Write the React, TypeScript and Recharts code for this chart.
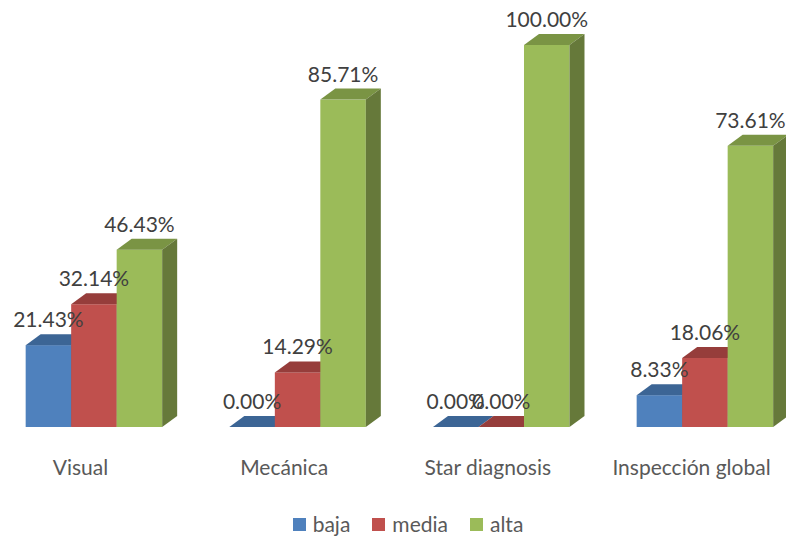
import React from 'react';
import { BarChart, Bar, XAxis, YAxis, LabelList, Legend } from 'recharts';

// Categories and the share of each level (percent) per inspection method
const categories = ['Visual', 'Mecánica', 'Star diagnosis', 'Inspección global'];
const baja = [21.43, 0.0, 0.0, 8.33];
const media = [32.14, 14.29, 0.0, 18.06];
const alta = [46.43, 85.71, 100.0, 73.61];

const seriesInfo = [
  { key: 'baja', name: 'baja', front: '#4F81BD', top: '#3C6595', side: '#33557E' },
  { key: 'media', name: 'media', front: '#C0504D', top: '#963D3B', side: '#7F3331' },
  { key: 'alta', name: 'alta', front: '#9BBB59', top: '#7A9444', side: '#66793A' },
];

const data = categories.map((name, i) => ({
  idx: i,
  name,
  baja: baja[i],
  media: media[i],
  alta: alta[i],
}));

const FONT = 'Lato, "Open Sans", sans-serif';
const DEPTH_X = 15;
const DEPTH_Y = 11;

// Box-shaped bar: front face plus a receding top and right side
const makeBox = (top: string, side: string) => (props: any) => {
  const { x, y, width, height, fill } = props;
  if (x == null || y == null) return null;
  const h = Math.max(0, height || 0);
  const w = width;
  return (
    <g>
      <rect x={x} y={y} width={w} height={h} fill={fill} />
      <polygon
        points={`${x},${y} ${x + DEPTH_X},${y - DEPTH_Y} ${x + w + DEPTH_X},${y - DEPTH_Y} ${x + w},${y}`}
        fill={top}
      />
      <polygon
        points={`${x + w},${y} ${x + w + DEPTH_X},${y - DEPTH_Y} ${x + w + DEPTH_X},${y + h - DEPTH_Y} ${x + w},${y + h}`}
        fill={side}
      />
    </g>
  );
};

const CategoryTick = (props: any) => {
  const { x, y, payload } = props;
  return (
    <text
      x={x - 13}
      y={y + 48}
      textAnchor="middle"
      fontFamily={FONT}
      fontSize={21}
      fill="#595959"
    >
      {categories[payload.value]}
    </text>
  );
};

const seriesOrder = seriesInfo.map((s) => s.name);

const LegendContent = (props: any) => {
  const items = [...(props.payload || [])].sort(
    (a: any, b: any) => seriesOrder.indexOf(a.value) - seriesOrder.indexOf(b.value)
  );
  return (
    <div
      style={{
        display: 'flex',
        justifyContent: 'center',
        gap: 22,
        paddingLeft: 22,
        boxSizing: 'border-box',
        fontFamily: FONT,
        fontSize: 21,
        color: '#595959',
        lineHeight: '20px',
      }}
    >
      {items.map((p: any) => (
        <span key={p.value} style={{ display: 'flex', alignItems: 'center' }}>
          <span
            style={{
              display: 'inline-block',
              width: 13,
              height: 13,
              background: p.color,
              marginRight: 7,
            }}
          />
          {p.value}
        </span>
      ))}
    </div>
  );
};

const fmt = (v: any) => `${Number(v).toFixed(2)}%`;

export default function App() {
  return (
    <div
      style={{
        position: 'fixed',
        left: 0,
        top: 0,
        width: 786,
        height: 536,
        overflow: 'hidden',
        background: '#ffffff',
      }}
    >
      <div style={{ position: 'absolute', left: 8, top: 8 }}>
        <BarChart
          width={778}
          height={528}
          data={data}
          margin={{ top: 37, right: 0, bottom: 49, left: 0 }}
          barGap={0}
          barSize={45.5}
        >
          <XAxis
            dataKey="idx"
            type="number"
            domain={[-0.4198, 3.4002]}
            ticks={[0, 1, 2, 3]}
            axisLine={false}
            tickLine={false}
            tickSize={0}
            tickMargin={0}
            height={60}
            tick={<CategoryTick />}
            interval={0}
          />
          <YAxis hide domain={[0, 100]} />
          <Legend
            verticalAlign="middle"
            align="center"
            wrapperStyle={{ top: 506, left: 0, width: 778 }}
            content={<LegendContent />}
          />
          {seriesInfo.map((s) => (
            <Bar
              key={s.key}
              dataKey={s.key}
              name={s.name}
              fill={s.front}
              isAnimationActive={false}
              shape={makeBox(s.top, s.side)}
            >
              <LabelList
                dataKey={s.key}
                position="top"
                offset={18}
                formatter={fmt}
                fontFamily={FONT}
                fontSize={21}
                fill="#404040"
              />
            </Bar>
          ))}
        </BarChart>
      </div>
    </div>
  );
}
